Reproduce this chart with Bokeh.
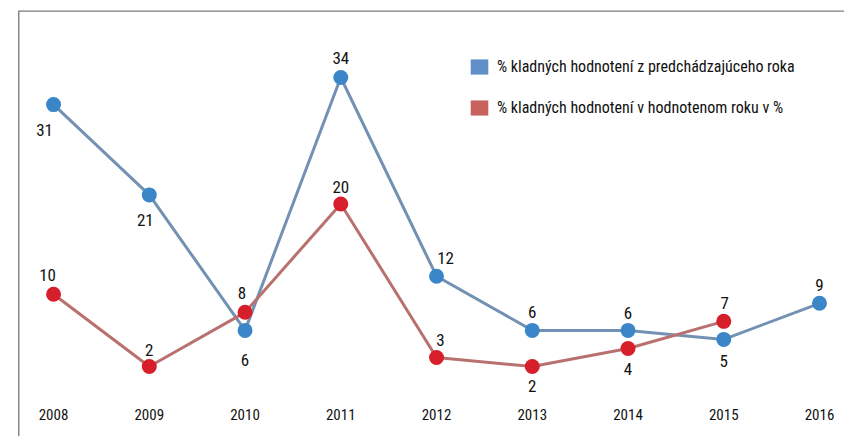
from bokeh.plotting import figure
from bokeh.models import (Range1d, FixedTicker, Span, Legend, LegendItem,
                          ColumnDataSource)
from bokeh.core.properties import value
from bokeh.embed import file_html
from bokeh.resources import INLINE

# ---- data ----
years = [2008, 2009, 2010, 2011, 2012, 2013, 2014, 2015, 2016]
prev_year = [31, 21, 6, 34, 12, 6, 6, 5, 9]
red_years = [2008, 2009, 2010, 2011, 2012, 2013, 2014, 2015]
this_year = [10, 2, 8, 20, 3, 2, 4, 7]
series_names = ["% kladných hodnotení z predchádzajúceho roka",
                "% kladných hodnotení v hodnotenom roku v %"]

# label placement (pixel offsets, style only)
blue_dx = [-9, -4, 0, 0, 9, 0, 0, 0, 0]
blue_dy = [25, 25, 30, -20, -18, -18, -17, 22, -18]
red_dx = [-6, 0, -3, 0, 4, 0, 0, 1]
red_dy = [-19, -17, -19, -17, -17, 19, 21, -18]

FONT = "Roboto Condensed"
BLUE_LINE = "#7391b3"
RED_LINE = "#b9716f"
BLUE_DOT = "#3b86c8"
RED_DOT = "#d71f2b"

X0, X1 = 2007.634, 2016.261
Y0, Y1 = -5.75, 41.42
AXIS_Y = -1.21

p = figure(width=844, height=436, output_backend="svg", toolbar_location=None,
           x_range=Range1d(X0, X1), y_range=Range1d(Y0, Y1),
           y_axis_location=None, min_border_left=18, min_border_right=0,
           min_border_top=10, min_border_bottom=0)
p.outline_line_color = None
p.grid.visible = False
p.background_fill_color = "white"
p.border_fill_color = "white"

xa = p.xaxis[0]
xa.fixed_location = AXIS_Y
xa.ticker = FixedTicker(ticks=years)
xa.axis_line_color = None
xa.major_tick_line_color = None
xa.minor_tick_line_color = None
xa.major_label_text_font = FONT
xa.major_label_text_font_size = "15px"
xa.major_label_text_color = "#111111"
xa.major_label_standoff = 8

# frame border lines
p.add_layout(Span(location=X0, dimension="height", line_color="#111111", line_width=1.5))
p.add_layout(Span(location=Y1, dimension="width", line_color="#7a7a7a", line_width=2.5))

blue = ColumnDataSource(dict(x=years, y=prev_year, t=[str(v) for v in prev_year],
                             dx=blue_dx, dy=blue_dy))
red = ColumnDataSource(dict(x=red_years, y=this_year, t=[str(v) for v in this_year],
                            dx=red_dx, dy=red_dy))

p.line("x", "y", source=blue, line_color=BLUE_LINE, line_width=3)
p.line("x", "y", source=red, line_color=RED_LINE, line_width=3)
p.scatter("x", "y", source=blue, size=15, fill_color=BLUE_DOT, line_color=None)
p.scatter("x", "y", source=red, size=15, fill_color=RED_DOT, line_color=None)

for src in (blue, red):
    p.text("x", "y", text="t", source=src, x_offset="dx", y_offset="dy",
           text_align="center", text_baseline="middle",
           text_font=value(FONT), text_font_size="17px", text_color="#111111")

# legend swatches (zero-size rects, used only for the legend glyph)
r1 = p.rect(x=years[:1], y=prev_year[:1], width=0, height=0,
            fill_color="#5f8fc6", line_color=None)
r2 = p.rect(x=red_years[:1], y=this_year[:1], width=0, height=0,
            fill_color="#c9625d", line_color=None)
legend = Legend(items=[LegendItem(label=series_names[0], renderers=[r1]),
                       LegendItem(label=series_names[1], renderers=[r2])],
                location=(450, 319), orientation="vertical",
                glyph_width=22, glyph_height=19, label_height=19,
                label_standoff=7, spacing=22, padding=0, margin=0,
                border_line_color=None, background_fill_alpha=0,
                label_text_font=FONT, label_text_font_size="16px",
                label_text_color="#111111")
p.add_layout(legend, "center")

open("out.html", "w").write(file_html(p, INLINE))
